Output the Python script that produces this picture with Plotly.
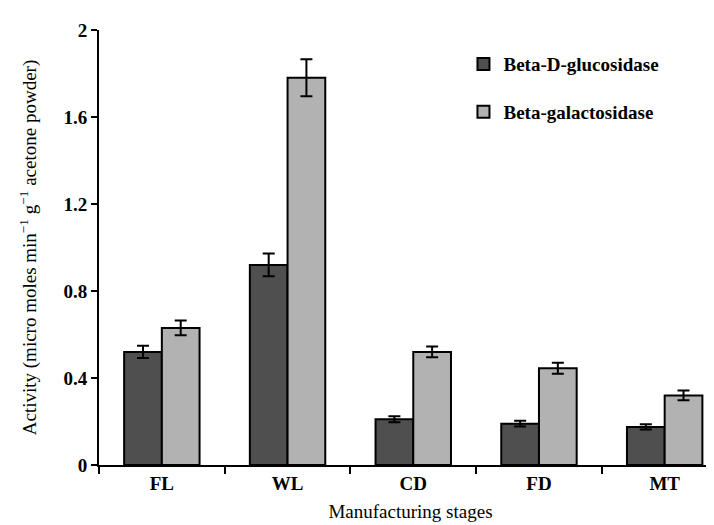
import plotly.graph_objects as go

stages = ["FL", "WL", "CD", "FD", "MT"]
glucosidase = [0.52, 0.92, 0.21, 0.19, 0.175]
glucosidase_err = [0.028, 0.052, 0.014, 0.013, 0.012]
galactosidase = [0.63, 1.78, 0.52, 0.445, 0.32]
galactosidase_err = [0.034, 0.085, 0.025, 0.025, 0.022]
y_ticks = [0, 0.4, 0.8, 1.2, 1.6, 2]
y_tick_labels = ["0", "0.4", "0.8", "1.2", "1.6", "2"]

xpos = list(range(len(stages)))
FONT = "Liberation Serif, Times New Roman, serif"

fig = go.Figure()
fig.add_trace(go.Bar(
    x=xpos, y=glucosidase, name="Beta-D-glucosidase", legendgroup="a",
    marker=dict(color="#4f4f4f", line=dict(color="black", width=2)),
    error_y=dict(type="data", array=glucosidase_err, color="black", thickness=2, width=6),
))
fig.add_trace(go.Bar(
    x=xpos, y=galactosidase, name="Beta-galactosidase", legendgroup="b",
    marker=dict(color="#b2b2b2", line=dict(color="black", width=2)),
    error_y=dict(type="data", array=galactosidase_err, color="black", thickness=2, width=6),
))

fig.update_layout(
    width=714, height=525,
    margin=dict(l=91, r=0, t=22, b=68),
    paper_bgcolor="white", plot_bgcolor="white",
    barmode="group", bargap=0.4, bargroupgap=0,
    font=dict(family=FONT, size=19, color="black"),
    showlegend=True,
    legend=dict(
        x=0.585, y=0.965, xanchor="left", yanchor="top",
        font=dict(family=FONT, size=19, color="black", weight="bold"),
        tracegroupgap=20, bgcolor="rgba(0,0,0,0)",
    ),
    xaxis=dict(
        range=[-0.5, 4.456], tickvals=xpos, ticktext=stages, ticks="",
        showline=True, linecolor="black", linewidth=2, showgrid=False, zeroline=False,
        tickfont=dict(family=FONT, size=19, weight="bold"),
        minor=dict(ticks="outside", tick0=0.5, dtick=1, ticklen=7, tickwidth=2,
                   tickcolor="black", showgrid=False),
        title=dict(text="Manufacturing stages", font=dict(family=FONT, size=19), standoff=12),
    ),
    yaxis=dict(
        range=[0, 2], tickvals=y_ticks, ticktext=y_tick_labels,
        ticks="outside", ticklen=6, tickwidth=2, tickcolor="black",
        showline=True, linecolor="black", linewidth=2, showgrid=False, zeroline=False,
        tickfont=dict(family=FONT, size=19, weight="bold"),
        title=dict(text="Activity (micro moles min<sup>−1</sup> g<sup>−1</sup> acetone powder)",
                   font=dict(family=FONT, size=19), standoff=22),
    ),
)

fig.write_html("out.html")
